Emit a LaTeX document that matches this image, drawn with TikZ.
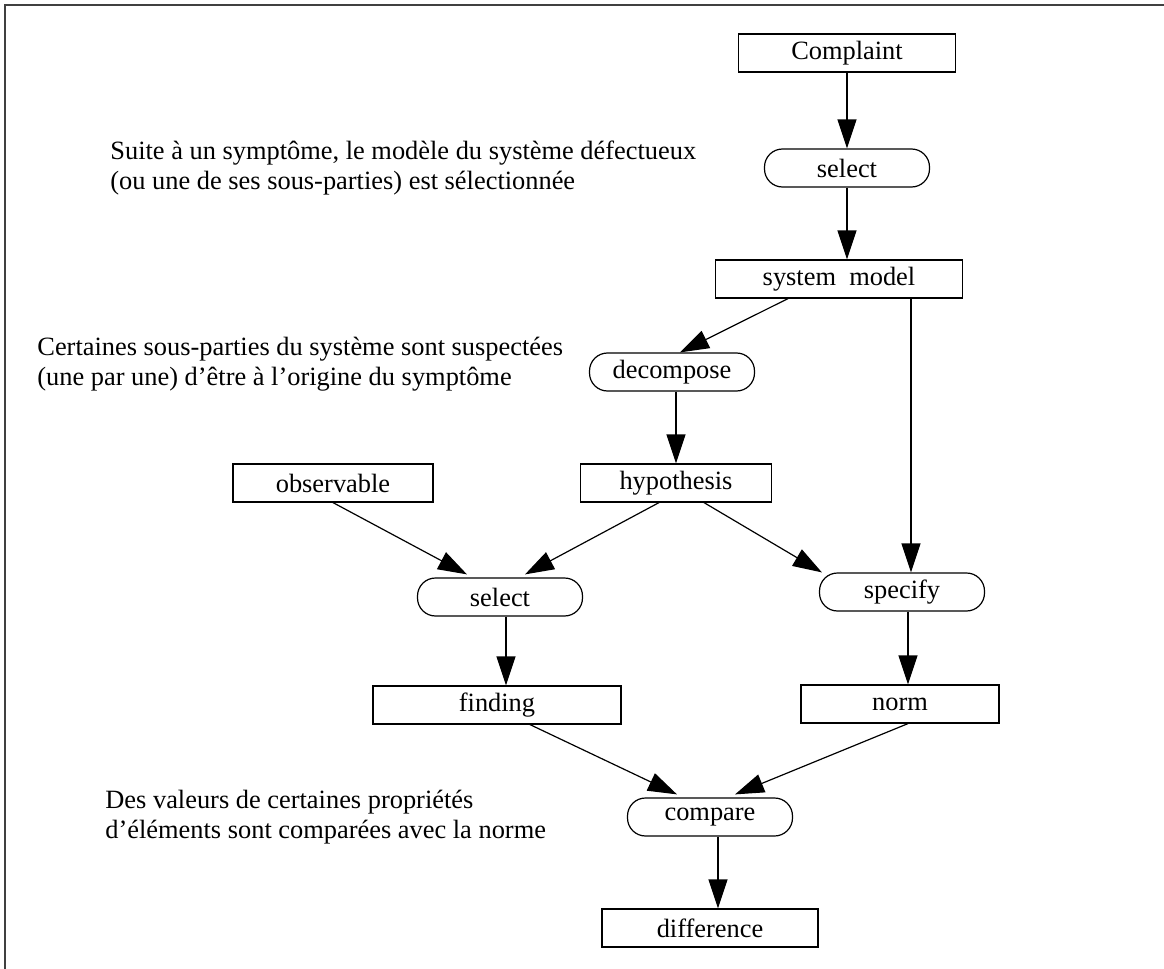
\documentclass[tikz,border=0pt]{standalone}
\usepackage{fontspec}
\setmainfont{Liberation Serif}
\usetikzlibrary{arrows.meta, calc}

\begin{document}
\begin{tikzpicture}[
    x=0.5pt, y=-0.5pt,
    font=\fontsize{13.2}{15}\selectfont,
    databox/.style={draw, line width=0.6pt, minimum height=19pt, inner sep=0pt, align=center},
    procbox/.style={draw, line width=0.6pt, rounded corners=9pt, minimum width=82.5pt, minimum height=19pt, inner sep=0pt, align=center},
    arr/.style={-{Triangle[length=14.5pt, width=9.5pt]}, line width=0.6pt},
    note/.style={anchor=west, align=left, inner sep=0pt}
]
\useasboundingbox (0,0) rectangle (1164,969);
% Frame
\draw[line width=0.8pt, black!75] (5,969) -- (5,5) -- (1164,5);
% --- Data and process nodes ---
\node[databox, minimum width=108.5pt] (compl) at (847,53) {Complaint};
\node[procbox] (sel1) at (847,168) {select};
\node[databox, minimum width=123.5pt] (sysm) at (839,279) {system\ \ model};
\node[procbox] (decomp) at (672,372) {decompose};
\node[databox, minimum width=95.5pt] (hyp) at (676,483) {hypothesis};
\node[databox, minimum width=100pt] (obs) at (333,483) {observable};
\node[procbox] (sel2) at (500,597) {select};
\node[procbox] (spec) at (902,592) {specify};
\node[databox, minimum width=124pt] (find) at (497,705) {finding};
\node[databox, minimum width=99pt] (norm) at (900,704) {norm};
\node[procbox] (comp) at (710,817) {compare};
\node[databox, minimum width=108pt] (diff) at (710,928) {difference};
% --- Annotations ---
\node[note] (noteA) at (110,168) {Suite à un symptôme, le modèle du système défectueux\\(ou une de ses sous-parties) est sélectionnée};
\node[note] (noteB) at (37,364) {Certaines sous-parties du système sont suspectées\\(une par une) d’être à l’origine du symptôme};
\node[note] (noteC) at (105,817) {Des valeurs de certaines propriétés\\d’éléments sont comparées avec la norme};
% --- Vertical arrow ends ---
\coordinate (spectop) at ($(spec.north)+(9,0)$);
\coordinate (findtop) at ($(find.north)+(9,0)$);
\coordinate (normtop) at ($(norm.north)+(8,0)$);
\coordinate (difftop) at ($(diff.north)+(8,0)$);
% --- Connectors ---
\draw[arr] (compl) -- (sel1);
\draw[arr] (sel1) -- (sel1 |- sysm.north);
\draw[arr] ($(sysm.south)+(-51,0)$) -- ($(decomp.north)+(8,0)$);
\draw[arr] (spectop |- sysm.south) -- (spectop);
\draw[arr] (hyp.north |- decomp.south) -- (hyp.north);
\draw[arr] (obs.south) -- ($(sel2.north)+(-33,-3)$);
\draw[arr] ($(hyp.south)+(-17,0)$) -- ($(sel2.north)+(25,-3)$);
\draw[arr] ($(hyp.south)+(28,0)$) -- ($(spec.north west)+(3,0)$);
\draw[arr] (findtop |- sel2.south) -- (findtop);
\draw[arr] (normtop |- spec.south) -- (normtop);
\draw[arr] ($(find.south)+(33,0)$) -- ($(comp.north)+(-33,-3)$);
\draw[arr] ($(norm.south)+(8,0)$) -- ($(comp.north)+(25,-3)$);
\draw[arr] (difftop |- comp.south) -- (difftop);
\end{tikzpicture}
\end{document}
